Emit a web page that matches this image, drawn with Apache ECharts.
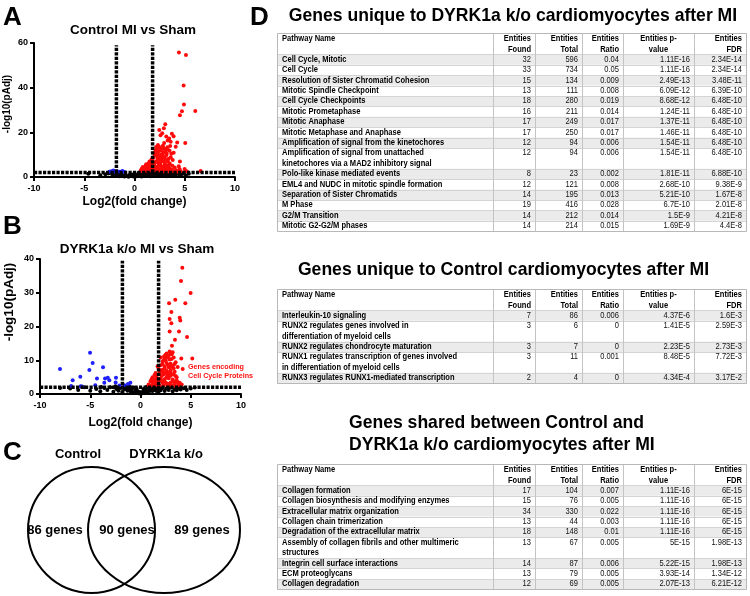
<!DOCTYPE html>
<html><head><meta charset="utf-8">
<script src="https://cdn.jsdelivr.net/npm/echarts@6/dist/echarts.min.js"></script>
<style>html,body{margin:0;padding:0;background:#fff}#c{width:750px;height:596px}</style>
</head><body><div id="c"></div>
<script>
// ---------- Volcano A: Control MI vs Sham ----------
const redA = [[4.42,55.8],[5.12,54.6],[4.89,41.0],[4.92,32.5],[4.72,29.4],[4.52,27.6],[6.05,29.5],
[3.06,23.6],[2.92,21.8],[2.46,21.0],[2.76,19.6],[3.16,18.1],[3.72,19.4],[3.89,18.3],[2.59,18.7],[3.45,17.2],
[4.25,15.4],[5.05,15.2],[3.6,15.8],[2.33,14.3],[2.83,14.0],[3.26,13.3],[4.52,6.9],[4.99,3.6],[6.58,2.7],[4.49,3.6],[5.2,2.6],
[2.59,12.9],[2.99,12.5],[3.49,11.7],[2.16,11.2],[2.69,10.1],[3.16,9.7],[3.66,10.4],[1.89,8.6],[2.43,7.9],[2.83,7.2],[3.32,6.9],
[1.49,6.9],[1.99,6.0],[2.56,5.7],[3.09,5.4],[3.76,5.0],[1.16,5.7],[1.66,4.8],[2.16,4.5],[2.76,4.2],[0.83,4.5],[1.33,3.9],[1.83,3.7],
[2.36,3.4],[2.96,3.7],[3.49,3.9],[0.66,3.3],[1.09,3.0],[1.56,3.0],[2.09,3.0],[2.66,2.8],[3.22,3.0],[3.82,2.7],[4.15,3.0],
[2.1,12.0],[2.4,11.5],[2.9,11.0],[3.1,11.9],[2.5,9.2],[2.2,9.5],[3.0,8.6],[3.4,8.2],[2.7,8.4],[1.8,7.2],[2.2,7.0],[2.6,6.6],
[3.0,6.3],[3.5,6.1],[1.3,5.2],[1.9,5.1],[2.4,5.0],[2.9,4.8],[3.3,4.6],[4.0,4.3],[0.9,3.6],[1.5,4.4],[2.6,3.6],[3.1,4.1],
[0.6,2.6],[0.9,2.5],[1.3,2.5],[1.8,2.5],[2.3,2.5],[2.8,2.4],[3.5,2.4],[4.3,2.4],[1.2,4.4],[2.0,3.9],[1.7,5.9],[2.4,6.2],
[3.8,7.6],[4.1,2.5],[2.45,13.6],[2.95,15.2],[3.3,16.3],
[1.0,3.3],[1.4,3.4],[1.2,2.9],[1.7,3.3],[2.0,3.4],[2.5,3.1],[2.9,3.2],[3.3,3.4],[3.7,3.2],[1.5,5.4],[1.95,4.4],[2.3,4.0],
[2.7,4.6],[3.0,5.0],[3.4,5.3],[1.6,6.4],[2.05,6.5],[2.3,8.3],[2.65,7.5],[3.1,7.7],[2.0,9.9],[2.35,10.2],[2.8,9.5],[3.2,10.5],
[2.25,12.6],[2.65,11.8],[1.7,8.0],[3.6,8.8],[3.3,12.3],[2.85,13.0],[1.4,6.0],[1.1,5.0],[0.75,3.9],[4.4,4.8],[4.6,2.6],
[3.9,10.9],[4.1,13.6],[3.55,13.9],[1.95,10.6],[2.15,13.4]];
const blueA = [[-2.5,2.3],[-2.3,2.6],[-2.1,2.9],[-1.95,2.4],[-1.7,2.5],[-1.45,2.3],[-1.2,2.7],[-1.0,2.2]];
const blackA = [[-4.6,1.5],[-3.4,0.8],[-2.9,1.2],[-2.6,1.6],[-2.2,0.9],[-2.0,1.4],[-1.8,0.5],[-1.6,1.1],[-1.5,0.3],[-1.3,1.6],
[-1.2,0.7],[-1.0,0.2],[-0.9,1.2],[-0.8,0.5],[-0.6,0.1],[-0.5,0.9],[-0.4,0.4],[-0.2,1.1],[-0.1,0.2],[0.0,0.6],[0.2,0.3],[0.3,1.0],
[0.5,0.5],[0.6,1.5],[0.7,0.2],[0.9,0.8],[1.0,1.8],[1.1,0.4],[1.3,1.2],[1.4,0.6],[1.5,1.9],[1.6,0.3],[1.8,1.0],[1.9,1.6],[2.0,0.5],
[2.2,1.3],[2.3,0.8],[2.5,1.7],[2.6,0.4],[2.8,1.1],[2.9,0.7],[3.1,1.5],[3.2,0.3],[3.4,1.0],[3.5,1.8],[3.7,0.6],[3.9,1.3],[4.1,0.9],
[4.3,1.6],[4.5,0.5],[4.7,1.2],[4.9,1.9],[5.1,0.8],[5.4,1.4],[0.4,1.8],[1.2,1.5],[1.7,1.9],[2.7,1.9],[-1.9,1.9],[-2.4,1.9],[0.8,1.4],
[2.1,1.9],[3.0,1.9],[3.6,1.3]];
// ---------- Volcano B: DYRK1a k/o MI vs Sham ----------
const redB = [[4.16,37.4],[4.03,33.5],[4.99,29.9],[4.46,26.9],[3.46,27.9],[2.84,26.9],[3.07,24.3],[2.90,22.2],[3.07,21.0],
[3.90,22.6],[3.96,21.8],[3.83,18.5],[2.90,18.5],[4.63,16.9],[3.43,16.1],[3.13,14.3],[2.9,12.6],[4.06,10.5],[5.15,10.5],[4.2,7.4],
[2.6,12.0],[2.8,11.3],[3.1,11.8],[2.4,10.6],[2.9,10.2],[3.3,10.8],[2.2,9.6],[2.6,9.2],[3.0,9.0],[3.5,9.4],[2.0,8.5],[2.4,8.1],
[2.8,7.9],[3.2,8.3],[1.8,7.5],[2.2,7.2],[2.6,6.9],[3.0,7.0],[3.4,6.6],[1.5,6.2],[1.9,6.0],[2.3,5.8],[2.7,5.5],[3.1,5.9],[3.5,5.3],
[1.2,5.0],[1.6,4.9],[2.0,4.6],[2.4,4.4],[2.8,4.7],[3.2,4.3],[3.6,4.0],[1.0,3.8],[1.4,3.6],[1.8,3.5],[2.2,3.3],[2.6,3.2],[3.0,3.4],
[3.4,3.1],[0.8,2.8],[1.1,2.6],[1.5,2.7],[1.9,2.5],[2.3,2.6],[2.7,2.4],[3.1,2.5],[3.5,2.4],[3.8,2.6],[1.3,4.3],[2.1,5.3],[2.5,6.3],
[2.9,6.1],[3.3,7.6],[2.1,3.9],[1.7,3.0],[0.9,2.3],[3.9,3.3],[4.1,2.8],[2.5,10.0],[2.7,8.7],[2.0,7.0],[3.6,5.0],[1.1,4.4],[1.6,5.5],
[2.35,11.2],[3.2,12.4],[2.0,10.8],[3.7,8.0],[1.7,8.2],
[1.3,3.2],[2.4,3.7],[2.8,3.0],[3.3,3.7],[1.2,3.4],[1.9,4.2],[2.6,5.0],[3.0,5.4],[1.4,5.6],[2.2,6.5],[2.8,6.4],[3.3,5.8],
[1.9,6.8],[2.4,7.5],[3.0,8.0],[2.2,8.8],[2.85,8.5],[3.4,8.9],[2.3,9.9],[3.1,10.4],[2.7,10.9],[2.5,11.6],[3.0,12.1],[1.6,4.0],[3.7,3.5]];
const blueB = [[-8.01,7.4],[-6.75,4.1],[-5.99,5.1],[-5.82,2.2],[-5.02,12.2],[-4.76,9.2],[-5.09,7.1],[-4.33,4.6],[-3.73,7.9],
[-3.53,4.6],[-3.26,4.8],[-3.1,4.1],[-2.44,4.8],[-2.47,3.4],[-3.6,3.3],[-5.95,2.3],[-1.01,3.3],[-1.25,3.0],[-4.5,2.6],[-6.9,2.4],
[-2.1,2.5],[-1.6,2.6]];
const blackB = [[-8.0,1.8],[-7.0,1.6],[-6.2,1.2],[-5.6,2.0],[-5.0,1.0],[-4.4,1.5],[-4.0,0.8],[-3.6,1.8],[-3.3,1.2],[-3.0,2.0],
[-2.7,0.7],[-2.4,1.5],[-2.2,1.0],[-2.0,1.8],[-1.8,0.6],[-1.6,1.4],[-1.5,2.0],[-1.3,1.0],[-1.2,1.7],[-1.0,0.8],[-0.9,1.4],[-0.8,0.6],
[-0.7,1.9],[-0.6,0.5],[-0.5,1.2],[-0.4,0.4],[-0.3,0.9],[-0.2,0.2],[-0.1,0.6],[0.0,0.1],[0.1,0.5],[0.2,0.2],[0.3,0.8],[0.4,0.4],
[0.5,1.3],[0.6,0.6],[0.7,1.6],[0.8,0.8],[0.9,1.9],[1.0,1.0],[1.1,1.5],[1.2,0.9],[1.3,2.0],[1.4,1.2],[1.5,1.7],[1.6,0.9],[1.8,1.5],
[1.9,2.0],[2.0,1.1],[2.2,1.8],[2.4,0.9],[2.6,1.6],[2.8,1.2],[3.0,1.9],[3.2,0.8],[3.4,1.5],[3.6,1.1],[3.8,1.8],[4.0,1.3],[4.3,1.7],
[4.6,1.2],[5.0,1.6],[5.4,1.9],[-1.1,2.2],[-2.5,2.3],[0.6,2.1],[2.9,2.2],[-3.9,2.1],[-0.4,1.6],[0.3,1.5]];
const foldCut = [-1.8, 1.8];
const pCut = 2;
const vLineTop = [59, 39.5];
const yMax = [60, 40];
const yStep = [20, 10];
// ---------- Venn ----------
const vennSets = ['Control', 'DYRK1a k/o'];
const vennCounts = ['86 genes', '90 genes', '89 genes'];
// ---------- Tables ----------
const titles = ['Genes unique to DYRK1a k/o cardiomyocytes after MI', 'Genes unique to Control cardiomyocytes after MI',
  'Genes shared between Control and', 'DYRK1a k/o cardiomyocytes after MI'];
const t1Names = ['Cell Cycle, Mitotic','Cell Cycle','Resolution of Sister Chromatid Cohesion','Mitotic Spindle Checkpoint',
'Cell Cycle Checkpoints','Mitotic Prometaphase','Mitotic Anaphase','Mitotic Metaphase and Anaphase',
'Amplification of signal from the kinetochores','Amplification of signal from unattached\nkinetochores via a MAD2 inhibitory signal',
'Polo-like kinase mediated events','EML4 and NUDC in mitotic spindle formation','Separation of Sister Chromatids','M Phase',
'G2/M Transition','Mitotic G2-G2/M phases'];
const t1Found = ['32','33','15','13','18','16','17','17','12','12','8','12','14','19','14','14'];
const t1Total = ['596','734','134','111','280','211','249','250','94','94','23','121','195','416','212','214'];
const t1Ratio = ['0.04','0.05','0.009','0.008','0.019','0.014','0.017','0.017','0.006','0.006','0.002','0.008','0.013','0.028','0.014','0.015'];
const t1P = ['1.11E-16','1.11E-16','2.49E-13','6.09E-12','8.68E-12','1.24E-11','1.37E-11','1.46E-11','1.54E-11','1.54E-11','1.81E-11','2.68E-10','5.21E-10','6.7E-10','1.5E-9','1.69E-9'];
const t1FDR = ['2.34E-14','2.34E-14','3.48E-11','6.39E-10','6.48E-10','6.48E-10','6.48E-10','6.48E-10','6.48E-10','6.48E-10','6.88E-10','9.38E-9','1.67E-8','2.01E-8','4.21E-8','4.4E-8'];
const t2Names = ['Interleukin-10 signaling','RUNX2 regulates genes involved in\ndifferentiation of myeloid cells',
'RUNX2 regulates chondrocyte maturation','RUNX1 regulates transcription of genes involved\nin differentiation of myeloid cells',
'RUNX3 regulates RUNX1-mediated transcription'];
const t2Found = ['7','3','3','3','2'];
const t2Total = ['86','6','7','11','4'];
const t2Ratio = ['0.006','0','0','0.001','0'];
const t2P = ['4.37E-6','1.41E-5','2.23E-5','8.48E-5','4.34E-4'];
const t2FDR = ['1.6E-3','2.59E-3','2.73E-3','7.72E-3','3.17E-2'];
const t3Names = ['Collagen formation','Collagen biosynthesis and modifying enzymes','Extracellular matrix organization',
'Collagen chain trimerization','Degradation of the extracellular matrix','Assembly of collagen fibrils and other multimeric\nstructures',
'Integrin cell surface interactions','ECM proteoglycans','Collagen degradation'];
const t3Found = ['17','15','34','13','18','13','14','13','12'];
const t3Total = ['104','76','330','44','148','67','87','79','69'];
const t3Ratio = ['0.007','0.005','0.022','0.003','0.01','0.005','0.006','0.005','0.005'];
const t3P = ['1.11E-16','1.11E-16','1.11E-16','1.11E-16','1.11E-16','5E-15','5.22E-15','3.93E-14','2.07E-13'];
const t3FDR = ['6E-15','6E-15','6E-15','6E-15','6E-15','1.98E-13','1.98E-13','1.34E-12','6.21E-12'];
const headerTop = ['Entities','Entities','Entities','Entities p-','Entities'];
const headerBot = ['Found','Total','Ratio','value','FDR'];

const FF = '"Liberation Sans", Arial, sans-serif';
const chart = echarts.init(document.getElementById('c'), null, {renderer: 'canvas'});

function T(text, x, y, size, opt) {
  opt = opt || {};
  return {type: 'text', silent: true, z: 10, rotation: opt.rot || 0, x: x, y: y, scaleX: opt.sx || 1, scaleY: 1,
    style: {text: text, x: 0, y: 0, fill: opt.color || '#000', fontSize: size, fontWeight: opt.weight || 'bold',
      fontFamily: FF, align: opt.align || 'center', verticalAlign: 'middle',
      textAlign: opt.align || 'center', textVerticalAlign: 'middle'}};
}

const graphics = [];
// panel letters
graphics.push(T('A', 3, 17.5, 26, {align: 'left'}), T('B', 3, 226.5, 26, {align: 'left'}),
  T('C', 3, 452.5, 26, {align: 'left'}), T('D', 250, 17.5, 26, {align: 'left'}));
// volcano titles and y names
graphics.push(T('Control MI vs Sham', 133, 30.5, 13.5), T('DYRK1a k/o MI vs Sham', 137, 249, 13.5));
graphics.push(T('-log10(pAdj)', 7.5, 104, 10, {rot: Math.PI / 2}), T('-log10(pAdj)', 9.5, 302, 13.5, {rot: Math.PI / 2}));
graphics.push(T('Genes encoding', 188, 367.5, 7.2, {align: 'left', color: '#ff1010'}),
  T('Cell Cycle Proteins', 188, 376, 7.2, {align: 'left', color: '#ff1010'}));
// Venn
graphics.push({type: 'ellipse', silent: true, shape: {cx: 91.5, cy: 530, rx: 63.5, ry: 63}, style: {fill: 'none', stroke: '#000', lineWidth: 2}});
graphics.push({type: 'ellipse', silent: true, shape: {cx: 164, cy: 530, rx: 76, ry: 63}, style: {fill: 'none', stroke: '#000', lineWidth: 2}});
graphics.push(T(vennSets[0], 78, 454, 13), T(vennSets[1], 166, 454, 13));
graphics.push(T(vennCounts[0], 55, 530.5, 13), T(vennCounts[1], 127, 530.5, 13), T(vennCounts[2], 202, 530.5, 13));
// table titles
const TS = 19, TSX = 0.925;
graphics.push(T(titles[0], 513, 15.5, TS, {sx: TSX}), T(titles[1], 503.5, 270, TS, {sx: TSX}),
  T(titles[2], 349, 423, TS, {align: 'left', sx: TSX}), T(titles[3], 349, 445, TS, {align: 'left', sx: TSX}));

function buildTable(top, names, cols) {
  const C = [277, 493, 535, 582, 623, 694, 746];
  const LH = 10.4, HH = 21, FS = 8.4, SX = 0.9;
  let y = top + HH;
  const rows = [];
  names.forEach(n => { const k = n.split('\n').length; rows.push([y, k]); y += k * LH; });
  const bottom = y;
  rows.forEach(([ry, k], i) => {
    if (i % 2 === 0) graphics.push({type: 'rect', silent: true, shape: {x: C[0], y: ry, width: C[6] - C[0], height: k * LH}, style: {fill: '#ebebeb'}});
  });
  const hl = [top + HH].concat(rows.slice(1).map(r => r[0]));
  hl.forEach(hy => graphics.push({type: 'line', silent: true, shape: {x1: C[0], y1: Math.round(hy) + 0.5, x2: C[6], y2: Math.round(hy) + 0.5}, style: {stroke: '#d4d4d4', lineWidth: 1}}));
  C.slice(1, 6).forEach(cx => graphics.push({type: 'line', silent: true, shape: {x1: cx + 0.5, y1: top, x2: cx + 0.5, y2: bottom}, style: {stroke: '#c4c4c4', lineWidth: 1}}));
  graphics.push({type: 'rect', silent: true, shape: {x: C[0] + 0.5, y: Math.round(top) + 0.5, width: C[6] - C[0], height: Math.round(bottom - top)}, style: {fill: 'none', stroke: '#b8b8b8', lineWidth: 1}});
  // header
  graphics.push(T('Pathway Name', C[0] + 5, top + 5.6, FS, {align: 'left', color: '#000', sx: SX}));
  for (let j = 0; j < 5; j++) {
    const center = j === 3;
    const hx = center ? (C[4] + C[5]) / 2 : C[j + 2] - 4;
    const al = center ? 'center' : 'right';
    graphics.push(T(headerTop[j], hx, top + 5.6, FS, {align: al, color: '#000', sx: SX}));
    graphics.push(T(headerBot[j], hx, top + 15.9, FS, {align: al, color: '#000', sx: SX}));
  }
  rows.forEach(([ry, k], i) => {
    names[i].split('\n').forEach((ln, m) => graphics.push(T(ln, C[0] + 5, ry + LH / 2 + m * LH, FS, {align: 'left', color: '#000', sx: SX})));
    cols.forEach((arr, j) => graphics.push(T(arr[i], C[j + 2] - 4, ry + LH / 2, FS, {align: 'right', color: '#111', weight: 'normal', sx: SX})));
  });
}
buildTable(33.3, t1Names, [t1Found, t1Total, t1Ratio, t1P, t1FDR]);
buildTable(289.3, t2Names, [t2Found, t2Total, t2Ratio, t2P, t2FDR]);
buildTable(464.3, t3Names, [t3Found, t3Total, t3Ratio, t3P, t3FDR]);

const labStyle = {color: '#000', fontWeight: 'bold', fontSize: 9, fontFamily: FF};
function xAx(i, gap) {
  return {gridIndex: i, type: 'value', min: -10, max: 10, interval: 5,
    axisLine: {onZero: false, lineStyle: {color: '#000', width: 2}},
    axisTick: {length: 4, lineStyle: {color: '#000', width: 2}},
    axisLabel: Object.assign({margin: 7}, labStyle), splitLine: {show: false},
    name: 'Log2(fold change)', nameLocation: 'middle', nameGap: gap,
    nameTextStyle: {color: '#000', fontWeight: 'bold', fontSize: 12, fontFamily: FF}};
}
function yAx(i) {
  return {gridIndex: i, type: 'value', min: 0, max: yMax[i], interval: yStep[i],
    axisLine: {onZero: false, lineStyle: {color: '#000', width: 2}},
    axisTick: {length: 4, lineStyle: {color: '#000', width: 2}},
    axisLabel: Object.assign({margin: 6}, labStyle), splitLine: {show: false}};
}
function pts(i, data, color) {
  return {type: 'scatter', xAxisIndex: i, yAxisIndex: i, data: data, symbolSize: 4, silent: true,
    itemStyle: {color: color, opacity: 1}, z: 2};
}
function dash(i, data) {
  return {type: 'line', xAxisIndex: i, yAxisIndex: i, data: data, symbol: 'none', silent: true, z: 4,
    lineStyle: {color: '#000', width: 3.5, type: [3.2, 1.3], cap: 'butt'}};
}
const series = [];
[[blackA, redA, blueA], [blackB, redB, blueB]].forEach((sets, i) => {
  series.push(pts(i, sets[0], '#000'), pts(i, sets[1], '#ff0a0a'), pts(i, sets[2], '#1f1fff'));
  series.push(dash(i, [[foldCut[0], 0], [foldCut[0], vLineTop[i]]]));
  series.push(dash(i, [[foldCut[1], 0], [foldCut[1], vLineTop[i]]]));
  series.push(dash(i, [[-10, pCut], [10, pCut]]));
});

chart.setOption({
  animation: false,
  backgroundColor: '#fff',
  grid: [{left: 34, top: 43, width: 201, height: 134}, {left: 40, top: 259, width: 201, height: 135}],
  xAxis: [xAx(0, 19), xAx(1, 23)],
  yAxis: [yAx(0), yAx(1)],
  series: series,
  graphic: graphics
});
</script></body></html>
